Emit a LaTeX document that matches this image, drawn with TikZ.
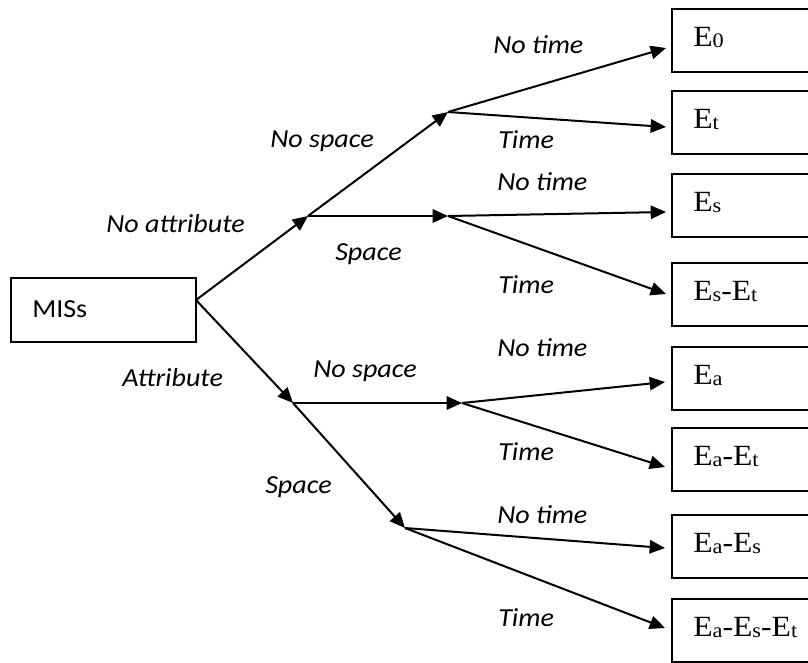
\documentclass[tikz,border=0pt]{standalone}
\usepackage{fontspec}
\setmainfont{Liberation Serif}[FakeStretch=1.08]
\newfontfamily\calibri{Carlito}[FakeStretch=1.08]
\usetikzlibrary{arrows.meta,calc}
\newcommand\sbs[1]{\raisebox{-0.75pt}{\fontsize{15.5pt}{15.5pt}\selectfont #1}}

\begin{document}
\begin{tikzpicture}[x=0.75pt,y=-0.75pt,
  arr/.style={line width=1.5pt, -{Triangle[length=11.5pt,width=10pt]}},
  ebox/.style={draw, line width=1.4pt, anchor=north west, outer sep=0pt,
    minimum width=112.5pt, minimum height=47.25pt, inner sep=0pt},
  etext/.style={anchor=base west, inner sep=0pt, font=\fontsize{22pt}{24pt}\selectfont},
  mtext/.style={anchor=base west, inner sep=0pt, font=\calibri\fontsize{19.5pt}{22pt}\selectfont},
  lbl/.style={anchor=base west, inner sep=0pt, font=\calibri\itshape\fontsize{19.5pt}{22pt}\selectfont},
]
\useasboundingbox (0,0) rectangle (808,662);
\clip (0,0) rectangle (808,662);

% root
\node[ebox, minimum width=138.75pt, minimum height=48pt] (mis) at (11,278) {};
\node[mtext] (mist) at ($(mis.north west)+(21,39)$) {MISs};

% result boxes
\node[ebox] (b0) at (672,9) {};
\node[ebox] (b1) at (672,91) {};
\node[ebox] (b2) at (672,174) {};
\node[ebox] (b3) at (672,263) {};
\node[ebox] (b4) at (672,347) {};
\node[ebox] (b5) at (672,428) {};
\node[ebox] (b6) at (672,515) {};
\node[ebox] (b7) at (672,599) {};

\node[etext] (e0) at ($(b0.north west)+(21,37)$) {E\sbs{0}};
\node[etext] (e1) at ($(b1.north west)+(21,37)$) {E\sbs{t}};
\node[etext] (e2) at ($(b2.north west)+(21,37)$) {E\sbs{s}};
\node[etext] (e3) at ($(b3.north west)+(21,37)$) {E\sbs{s}-E\sbs{t}};
\node[etext] (e4) at ($(b4.north west)+(21,37)$) {E\sbs{a}};
\node[etext] (e5) at ($(b5.north west)+(21,37)$) {E\sbs{a}-E\sbs{t}};
\node[etext] (e6) at ($(b6.north west)+(21,37)$) {E\sbs{a}-E\sbs{s}};
\node[etext] (e7) at ($(b7.north west)+(21,37)$) {E\sbs{a}-E\sbs{s}-E\sbs{t}};

% junctions
\coordinate (m0) at ($(mis.east)+(0,-10)$);
\coordinate (j1) at (308,216);
\coordinate (j2) at (293,403);
\coordinate (k1) at (448,112);
\coordinate (k2) at (448,216);
\coordinate (k3) at (462,403);
\coordinate (k4) at (405,528);

% arrow ends near boxes
\coordinate (t0) at (666,48);
\coordinate (t1) at (666,127);
\coordinate (t2) at (666,212);
\coordinate (t3) at (666,294);
\coordinate (t4) at (665,382);
\coordinate (t5) at (665,467);
\coordinate (t6) at (665,548);
\coordinate (t7) at (665,628);

% connectors
\draw[arr] (m0) -- (j1);
\draw[arr] (m0) -- (j2);
\draw[arr] (j1) -- (k1);
\draw[arr] (j1) -- (k2);
\draw[arr] (j2) -- (k3);
\draw[arr] (j2) -- (k4);
\draw[arr] (k1) -- (t0);
\draw[arr] (k1) -- (t1);
\draw[arr] (k2) -- (t2);
\draw[arr] (k2) -- (t3);
\draw[arr] (k3) -- (t4);
\draw[arr] (k3) -- (t5);
\draw[arr] (k4) -- (t6);
\draw[arr] (k4) -- (t7);

% labels
\node[lbl] (l1) at (493,53) {No time};
\node[lbl] (l2) at (498,148) {Time};
\node[lbl] (l3) at (270,147) {No space};
\node[lbl] (l4) at (497,190) {No time};
\node[lbl] (l5) at (106,232) {No attribute};
\node[lbl] (l6) at (335,260) {Space};
\node[lbl] (l7) at (498,293) {Time};
\node[lbl] (l8) at (497,356) {No time};
\node[lbl] (l9) at (313,377) {No space};
\node[lbl] (l10) at (122,386) {Attribute};
\node[lbl] (l11) at (498,460) {Time};
\node[lbl] (l12) at (265,493) {Space};
\node[lbl] (l13) at (497,523) {No time};
\node[lbl] (l14) at (498,626) {Time};
\end{tikzpicture}
\end{document}
